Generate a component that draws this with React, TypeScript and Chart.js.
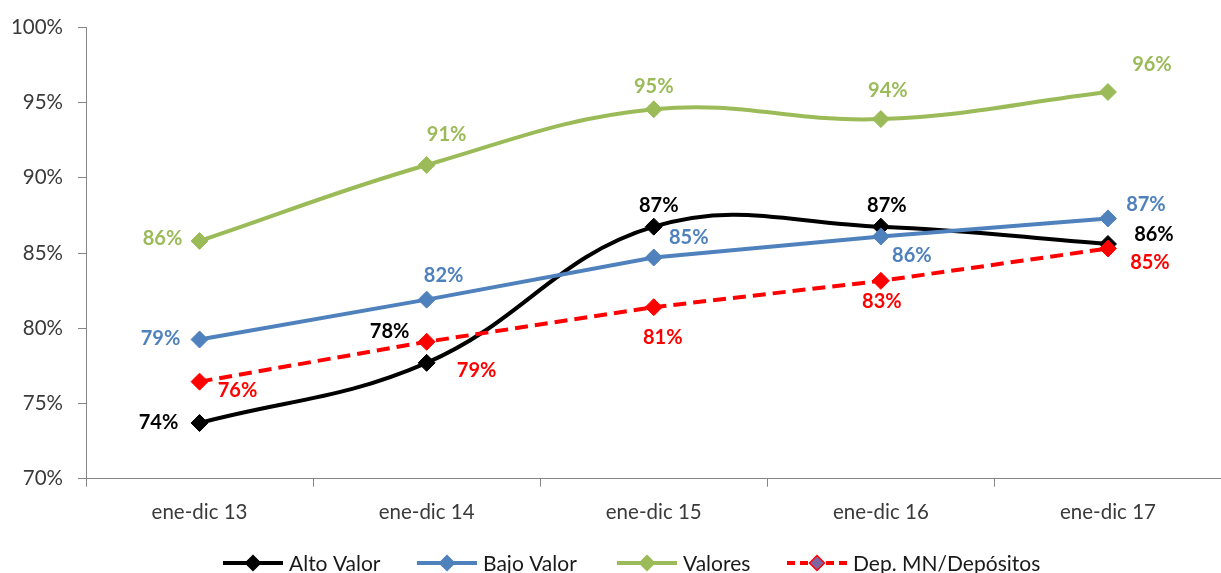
import React, { useEffect, useRef } from 'react';
import { Chart, registerables } from 'chart.js';

Chart.register(...registerables);

// ---- data ----
const categories = ['ene-dic 13', 'ene-dic 14', 'ene-dic 15', 'ene-dic 16', 'ene-dic 17'];
const altoValor = [73.7, 77.7, 86.75, 86.75, 85.6];
const bajoValor = [79.25, 81.9, 84.7, 86.1, 87.3];
const valores = [85.8, 90.85, 94.55, 93.9, 95.7];
const depMN = [76.45, 79.1, 81.4, 83.15, 85.3];
const seriesNames = ['Alto Valor', 'Bajo Valor', 'Valores', 'Dep. MN/Depósitos'];
const yMin = 70;
const yMax = 100;
const yStep = 5;

// ---- styles ----
const FONT = 'Lato, "Open Sans", "DejaVu Sans", sans-serif';
const COLORS = ['#000000', '#4F81BD', '#9BBB59', '#FF0000'];
const AXIS = '#868686';
const TICK_TEXT = '#3a3a3a';
const W = 1231;
const H = 573;

// label offsets (px) relative to each point, per series
const labelOffsets: number[][][] = [
  [[-41, -1], [-37, -32], [5, -22], [6, -22], [46, -10]],
  [[-39, -2], [17, -25], [35, -21], [31, 18], [38, -15]],
  [[-37, -3], [20, -31], [0, -24], [7, -30], [44, -28]],
  [[38, 8], [50, 28], [9, 29], [1, 20], [42, 13]],
];

// legend item start positions (px) and styles
const legendX = [223, 417, 617, 787];
const legendStyle = [
  { color: '#000000', dash: [] as number[], marker: '#000000', markerBorder: '#000000' },
  { color: '#4F81BD', dash: [] as number[], marker: '#4F81BD', markerBorder: '#4F81BD' },
  { color: '#9BBB59', dash: [] as number[], marker: '#9BBB59', markerBorder: '#9BBB59' },
  { color: '#FF0000', dash: [8, 5], marker: '#8064A2', markerBorder: '#FF0000' },
];

const dataLabelPlugin = {
  id: 'dataLabels',
  afterDatasetsDraw(chart: any) {
    const ctx = chart.ctx as CanvasRenderingContext2D;
    ctx.save();
    ctx.font = `bold 20px ${FONT}`;
    ctx.textAlign = 'center';
    ctx.textBaseline = 'middle';
    chart.data.datasets.forEach((ds: any, di: number) => {
      const meta = chart.getDatasetMeta(di);
      ctx.fillStyle = COLORS[di];
      meta.data.forEach((pt: any, i: number) => {
        const v = ds.data[i] as number;
        const [dx, dy] = labelOffsets[di][i];
        ctx.fillText(`${Math.round(v)}%`, pt.x + dx, pt.y + dy + 1);
      });
    });
    ctx.restore();
  },
};

const customLegendPlugin = {
  id: 'customLegend',
  afterDraw(chart: any) {
    const ctx = chart.ctx as CanvasRenderingContext2D;
    ctx.save();
    ctx.font = `21px ${FONT}`;
    ctx.textBaseline = 'middle';
    ctx.textAlign = 'left';
    const y = 563;
    const sample = 60;
    seriesNames.forEach((name, i) => {
      const st = legendStyle[i];
      const x = legendX[i];
      ctx.strokeStyle = st.color;
      ctx.lineWidth = 4;
      ctx.setLineDash(st.dash);
      ctx.beginPath();
      ctx.moveTo(x, y);
      ctx.lineTo(x + sample, y);
      ctx.stroke();
      ctx.setLineDash([]);
      const cx = x + sample / 2;
      const r = 7.5;
      ctx.beginPath();
      ctx.moveTo(cx - r, y);
      ctx.lineTo(cx, y - r);
      ctx.lineTo(cx + r, y);
      ctx.lineTo(cx, y + r);
      ctx.closePath();
      ctx.fillStyle = st.marker;
      ctx.fill();
      ctx.lineWidth = 1.5;
      ctx.strokeStyle = st.markerBorder;
      ctx.stroke();
      ctx.fillStyle = '#1a1a1a';
      ctx.fillText(name, x + sample + 6, y + 1);
    });
    ctx.restore();
  },
};

export default function App() {
  const canvasRef = useRef<HTMLCanvasElement | null>(null);

  useEffect(() => {
    document.documentElement.style.overflow = 'hidden';
    document.body.style.overflow = 'hidden';
    const canvas = canvasRef.current;
    if (!canvas) return;
    const seriesData = [altoValor, bajoValor, valores, depMN];
    const chart = new Chart(canvas, {
      type: 'line',
      data: {
        labels: categories,
        datasets: seriesData.map((d, i) => ({
          label: seriesNames[i],
          data: d,
          borderColor: COLORS[i],
          backgroundColor: COLORS[i],
          borderWidth: 4,
          tension: i === 0 || i === 2 ? 0.4 : 0,
          borderDash: i === 3 ? [13, 7] : [],
          pointStyle: 'rectRot',
          pointRadius: 8.5,
          pointBackgroundColor: COLORS[i],
          pointBorderColor: COLORS[i],
          pointBorderWidth: 1,
          fill: false,
          order: 4 - i,
        })),
      },
      options: {
        animation: false,
        responsive: false,
        devicePixelRatio: 1,
        layout: { padding: { top: 25, left: 0, right: 0, bottom: 0 } },
        plugins: {
          legend: { display: false },
          tooltip: { enabled: false },
        },
        scales: {
          x: {
            type: 'category',
            offset: true,
            grid: {
              display: true,
              offset: true,
              drawOnChartArea: false,
              drawTicks: true,
              tickLength: 8,
              color: AXIS,
            },
            border: { display: true, color: AXIS, width: 1 },
            ticks: {
              color: TICK_TEXT,
              font: { family: FONT, size: 20.5 },
              padding: 13.5,
              maxRotation: 0,
            },
            afterFit: (scale: any) => {
              scale.height = H - 478.7;
            },
          },
          y: {
            min: yMin,
            max: yMax,
            grid: {
              display: true,
              drawOnChartArea: false,
              drawTicks: true,
              tickLength: 8,
              color: AXIS,
            },
            border: { display: true, color: AXIS, width: 1 },
            ticks: {
              stepSize: yStep,
              color: TICK_TEXT,
              font: { family: FONT, size: 20.5 },
              padding: 15,
              callback: (v: any) => `${v}%`,
            },
            afterFit: (scale: any) => {
              scale.width = 86;
            },
          },
        },
      },
      plugins: [dataLabelPlugin, customLegendPlugin],
    } as any);
    return () => {
      chart.destroy();
    };
  }, []);

  return (
    <div style={{ position: 'fixed', left: 0, top: 0, width: W, height: H, background: '#fff' }}>
      <canvas ref={canvasRef} width={W} height={H} style={{ display: 'block', width: W, height: H }} />
    </div>
  );
}
